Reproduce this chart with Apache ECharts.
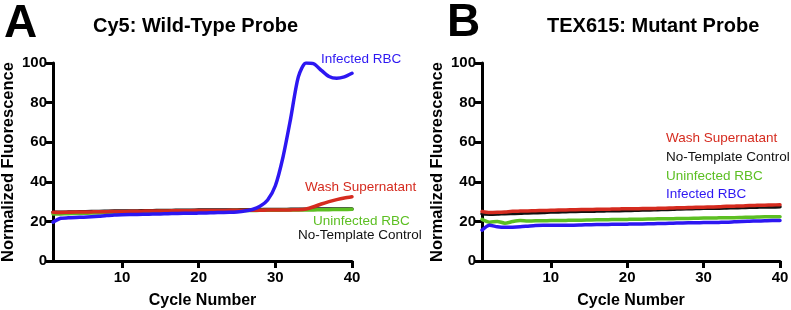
<!DOCTYPE html>
<html>
<head>
<meta charset="utf-8">
<script src="https://cdn.jsdelivr.net/npm/echarts@6/dist/echarts.min.js"></script>
<style>
  html, body { margin: 0; padding: 0; background: #fff; }
  #chart { width: 791px; height: 310px; }
</style>
</head>
<body>
<div id="chart"></div>
<script>
// cycles 1..40
var cycles = [1,2,3,4,5,6,7,8,9,10,11,12,13,14,15,16,17,18,19,20,21,22,23,24,25,26,27,28,29,30,31,32,33,34,35,36,37,38,39,40];
var xTicks = [10, 20, 30, 40];

// A: Cy5 wild-type probe
var cy5Ntc      = [24.6,24.6,24.7,24.8,24.9,25.0,25.0,25.1,25.2,25.2,25.3,25.3,25.4,25.4,25.5,25.5,25.6,25.6,25.6,25.7,25.7,25.7,25.8,25.8,25.8,25.9,25.9,25.9,26.0,26.0,26.0,26.1,26.1,26.1,26.2,26.2,26.2,26.3,26.3,26.3];
var cy5Uninf    = [23.7,23.8,23.9,24.0,24.1,24.2,24.3,24.4,24.5,24.6,24.7,24.8,24.8,24.9,25.0,25.0,25.1,25.1,25.2,25.2,25.3,25.3,25.4,25.4,25.5,25.5,25.5,25.6,25.6,25.6,25.7,25.7,25.7,25.8,25.8,25.9,25.9,26.0,26.0,26.1];
var cy5Wash     = [24.6,24.5,24.6,24.7,24.7,24.8,24.9,24.9,25.0,25.0,25.1,25.1,25.2,25.2,25.3,25.3,25.4,25.4,25.4,25.5,25.5,25.5,25.5,25.6,25.6,25.6,25.6,25.6,25.7,25.7,25.7,25.8,25.9,26.3,27.4,28.8,30.0,31.0,31.8,32.4];
var cy5Infected = [19.6,21.6,21.8,22.0,22.1,22.3,22.6,23.0,23.2,23.4,23.5,23.5,23.6,23.7,23.8,23.9,24.0,24.1,24.1,24.2,24.3,24.4,24.5,24.6,24.8,25.2,26.0,27.6,30.8,38.0,52.5,72.0,93.0,100.0,99.6,96.3,93.2,92.3,93.0,94.8];

// B: TEX615 mutant probe
var texWash     = [25.0,24.5,24.6,24.8,25.1,25.2,25.3,25.4,25.5,25.6,25.7,25.8,25.9,26.0,26.0,26.1,26.1,26.2,26.3,26.4,26.4,26.5,26.5,26.6,26.7,26.8,26.9,27.0,27.1,27.2,27.3,27.4,27.6,27.7,27.8,28.0,28.1,28.2,28.3,28.4];
var texNtc      = [23.8,23.6,23.7,23.9,24.0,24.1,24.3,24.4,24.5,24.7,24.8,24.9,25.0,25.1,25.1,25.2,25.3,25.4,25.4,25.5,25.6,25.7,25.8,25.9,26.0,26.1,26.3,26.4,26.5,26.6,26.7,26.7,26.8,26.9,27.0,27.1,27.2,27.3,27.3,27.4];
var texUninf    = [21.0,19.6,20.0,19.1,19.9,20.4,20.2,20.3,20.3,20.4,20.4,20.5,20.6,20.6,20.7,20.8,20.8,20.9,20.9,21.0,21.1,21.1,21.2,21.3,21.4,21.4,21.5,21.5,21.6,21.7,21.7,21.8,21.9,21.9,22.0,22.1,22.2,22.3,22.3,22.4];
var texInfected = [15.6,18.0,17.3,17.0,17.1,17.3,17.6,17.9,18.0,18.0,18.0,18.1,18.1,18.2,18.3,18.4,18.4,18.5,18.5,18.6,18.7,18.7,18.8,18.9,19.0,19.1,19.2,19.3,19.3,19.4,19.4,19.5,19.6,19.8,20.0,20.1,20.2,20.3,20.4,20.4];

var seriesNames = ['No-Template Control', 'Uninfected RBC', 'Wash Supernatant', 'Infected RBC'];

var COLORS = {
	'No-Template Control': '#111111',
	'Uninfected RBC': '#5cbf22',
	'Wash Supernatant': '#d52b1f',
	'Infected RBC': '#2d17f2'
};
var FONT = '"Liberation Sans", Arial, Helvetica, sans-serif';

function pairs(vals) {
	return cycles.map(function (c, i) { return [c, vals[i]]; });
}

function makeLine(name, vals, idx) {
	return {
		name: name,
		type: 'line',
		xAxisIndex: idx,
		yAxisIndex: idx,
		data: pairs(vals),
		showSymbol: false,
		smooth: 0.25,
		silent: true,
		lineStyle: { color: COLORS[name], width: 3.5, cap: 'round', join: 'round' },
		itemStyle: { color: COLORS[name] }
	};
}

function xAxisOf(idx) {
	return {
		gridIndex: idx,
		type: 'value',
		min: 1,
		max: 40,
		name: 'Cycle Number',
		nameLocation: 'middle',
		nameGap: 32,
		nameTextStyle: { fontFamily: FONT, fontWeight: 'bold', fontSize: 16, color: '#000' },
		splitLine: { show: false },
		axisLine: { lineStyle: { color: '#000', width: 3 } },
		axisTick: { length: 7, lineStyle: { color: '#000', width: 3 }, customValues: xTicks },
		axisLabel: { margin: 9, fontFamily: FONT, fontWeight: 'bold', fontSize: 15, color: '#000', customValues: xTicks }
	};
}

function yAxisOf(idx) {
	return {
		gridIndex: idx,
		type: 'value',
		min: 0,
		max: 100,
		interval: 20,
		name: 'Normalized Fluorescence',
		nameLocation: 'middle',
		nameGap: 36,
		nameTextStyle: { fontFamily: FONT, fontWeight: 'bold', fontSize: 16.5, color: '#000' },
		splitLine: { show: false },
		axisLine: { show: true, lineStyle: { color: '#000', width: 3 } },
		axisTick: { show: true, length: 7, lineStyle: { color: '#000', width: 3 } },
		axisLabel: { margin: 6, fontFamily: FONT, fontWeight: 'bold', fontSize: 15, color: '#000' }
	};
}

var chart = echarts.init(document.getElementById('chart'), null, { renderer: 'canvas' });

var series = [];
[cy5Ntc, cy5Uninf, cy5Wash, cy5Infected].forEach(function (v, i) { series.push(makeLine(seriesNames[i], v, 0)); });
[texNtc, texUninf, texWash, texInfected].forEach(function (v, i) { series.push(makeLine(seriesNames[i], v, 1)); });

// panel letters, titles and the series annotations (graphic layer)
var graphics = [
	{ type: 'text', silent: true, x: 4, y: 24, style: { text: 'A', fill: '#000', font: 'bold 46px ' + FONT, verticalAlign: 'middle' } },
	{ type: 'text', silent: true, x: 93, y: 26, style: { text: 'Cy5: Wild-Type Probe', fill: '#000', font: 'bold 20px ' + FONT, verticalAlign: 'middle' } },
	{ type: 'text', silent: true, x: 447, y: 23, style: { text: 'B', fill: '#000', font: 'bold 46px ' + FONT, verticalAlign: 'middle' } },
	{ type: 'text', silent: true, x: 547, y: 26, style: { text: 'TEX615: Mutant Probe', fill: '#000', font: 'bold 20px ' + FONT, verticalAlign: 'middle' } }
];
var labelPosA = { 'Infected RBC': [321, 59], 'Wash Supernatant': [305, 187.5], 'Uninfected RBC': [313, 221.5], 'No-Template Control': [298, 235.5] };
var labelPosB = { 'Wash Supernatant': [666, 138.5], 'No-Template Control': [666, 157.5], 'Uninfected RBC': [666, 176.5], 'Infected RBC': [666, 194.5] };
[labelPosA, labelPosB].forEach(function (pos) {
	seriesNames.forEach(function (n) {
		graphics.push({ type: 'text', silent: true, x: pos[n][0], y: pos[n][1],
			style: { text: n, fill: COLORS[n], font: '13.5px ' + FONT, verticalAlign: 'middle' } });
	});
});

var option = {
	animation: false,
	backgroundColor: '#fff',
	grid: [
		{ left: 53, top: 63, width: 299, height: 198, outerBoundsMode: 'none' },
		{ left: 482, top: 63, width: 298, height: 198, outerBoundsMode: 'none' }
	],
	xAxis: [xAxisOf(0), xAxisOf(1)],
	yAxis: [yAxisOf(0), yAxisOf(1)],
	series: series,
	graphic: graphics
};

chart.setOption(option);
</script>
</body>
</html>
